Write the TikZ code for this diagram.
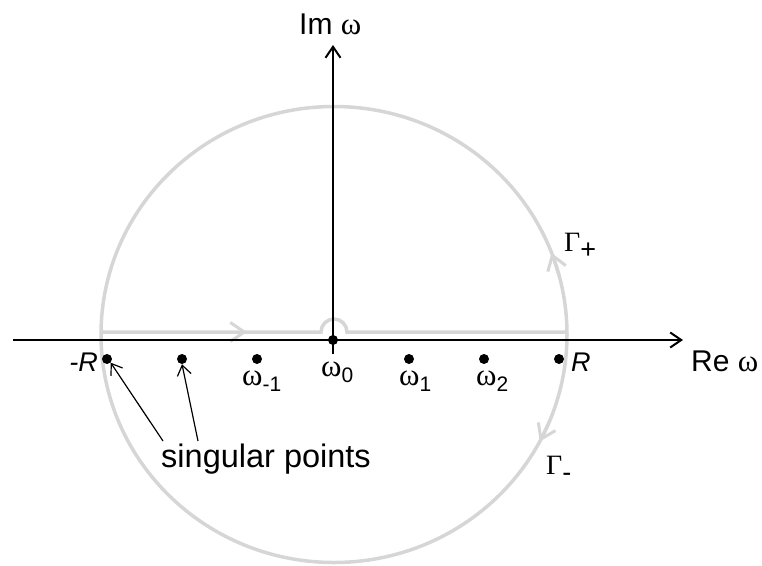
\documentclass[tikz,border=0pt]{standalone}
\usepackage{fontspec}
\setmainfont{Liberation Sans}
\newfontfamily\gk{Liberation Serif}
\usetikzlibrary{arrows.meta}
\definecolor{contour}{RGB}{214,214,214}
\newcommand{\om}{{\gk\fontsize{31}{32}\selectfont ω}}
\newcommand{\sub}[1]{\raisebox{-6pt}{\fontsize{21}{21}\selectfont #1}}
\newcommand{\gsub}[1]{\raisebox{-7pt}{\fontsize{27}{27}\selectfont #1}}
\begin{document}
\begin{tikzpicture}[x=1pt,y=-1pt,
  axis/.style={line width=2pt,-{Straight Barb[length=11pt,width=15pt]}},
  grayline/.style={draw=contour,line width=3.5pt},
  grayarrow/.style={draw=contour,line width=3pt,-{Straight Barb[length=14pt,width=19pt]}},
  dot/.style={circle,fill=black,inner sep=0pt,minimum size=10pt},
  lbl/.style={inner sep=0pt,font=\fontsize{30}{32}\selectfont},
  pointer/.style={line width=1.2pt,-{Straight Barb[length=10pt,width=14pt]}}]
\useasboundingbox (0,0) rectangle (762,565);
% contour
\draw[grayline] (334,334.5) ellipse [x radius=233pt,y radius=228pt];
\draw[grayline] (101.5,332) -- (321,332) arc[start angle=180,end angle=360,radius=13] -- (567.5,332);
\draw[grayarrow] (226,332) -- (247,332);
\draw[grayarrow] ({334+233*cos(15)},{334.5-228*sin(15)}) -- ({334+233*cos(21)},{334.5-228*sin(21)});
\draw[grayarrow] ({334+233*cos(-22)},{334.5-228*sin(-22)}) -- ({334+233*cos(-28)},{334.5-228*sin(-28)});
% axes
\coordinate (xl) at (13,340);
\coordinate (xr) at (683,340);
\coordinate (yb) at (333,354);
\coordinate (yt) at (333,45);
\draw[axis] (xl) -- (xr);
\draw[axis] (yb) -- (yt);
% points
\node[dot] (pmR) at (107,359) {};
\node[dot] (pa) at (182,359) {};
\node[dot] (pm1) at (257,359) {};
\node[dot] (p0) at (333,340) {};
\node[dot] (p1) at (409,359) {};
\node[dot] (p2) at (484,359) {};
\node[dot] (pR) at (559,359) {};
% labels
\node[lbl,anchor=west] (im) at (299,24) {Im \om};
\node[lbl,anchor=west] (re) at (691,361) {Re \om};
\node[lbl,anchor=east,font=\fontsize{27}{30}\selectfont] (lmR) at (98,362) {\textit{-R}};
\node[lbl,anchor=west,font=\fontsize{27}{30}\selectfont] (lR) at (571,362) {\textit{R}};
\node[lbl,anchor=west] (lm1) at (242,381) {\om\sub{-1}};
\node[lbl,anchor=west] (l0) at (321,372) {\om\sub{0}};
\node[lbl,anchor=west] (l1) at (399,381) {\om\sub{1}};
\node[lbl,anchor=west] (l2) at (476,381) {\om\sub{2}};
\node[lbl,anchor=west,font=\fontsize{28}{30}\selectfont] (gp) at (564,246) {{\gk Γ}\gsub{+}};
\node[lbl,anchor=west,font=\fontsize{28}{30}\selectfont] (gm) at (546,469) {{\gk Γ}\gsub{-}};
\node[lbl,font=\fontsize{32.5}{34}\selectfont] (sp) at (266,459) {singular points};
\coordinate (s1) at (163,441);
\coordinate (s2) at (198,441);
\draw[pointer] (s1) -- (pmR.south east);
\draw[pointer] (s2) -- (pa.south);
\end{tikzpicture}
\end{document}
